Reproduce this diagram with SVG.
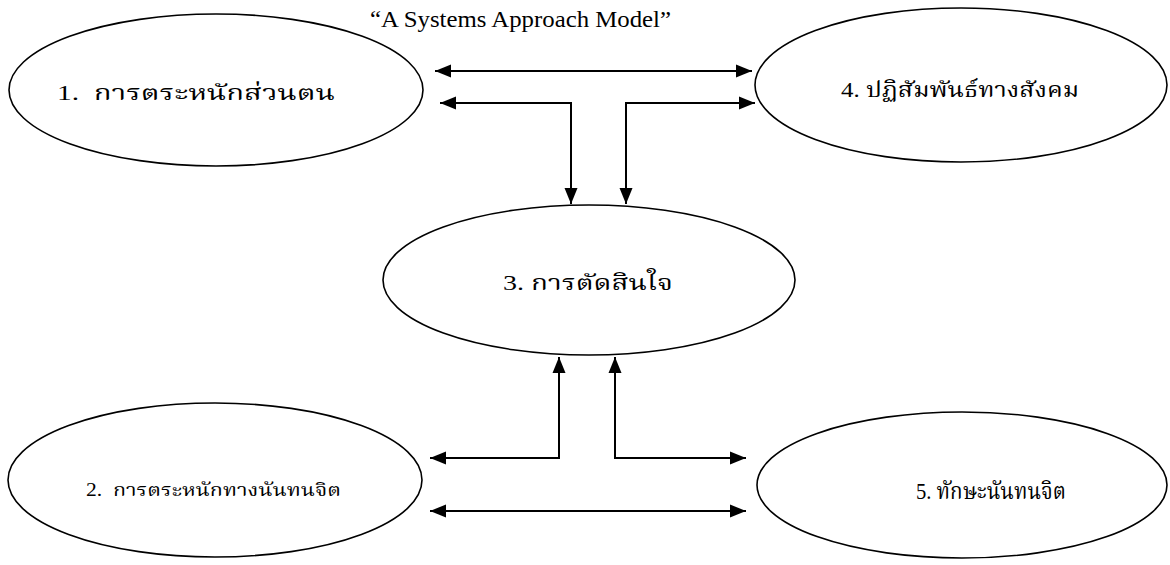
<svg xmlns="http://www.w3.org/2000/svg" width="1170" height="565" viewBox="0 0 1170 565">
<style>
.node ellipse{fill:#fff;stroke:#000;stroke-width:1.6}
.lbl{font-family:"Liberation Serif","Noto Serif Thai","Noto Sans Thai","Garuda","Loma",serif;font-size:21px;fill:#000}
.ttl{font-family:"Liberation Serif",serif;font-size:24px;fill:#000}
.conn path{fill:none;stroke:#000;stroke-width:2}
</style>
<defs>
<marker id="ah" markerUnits="userSpaceOnUse" markerWidth="17" markerHeight="14" refX="16" refY="6.5" orient="auto-start-reverse" viewBox="0 0 17 13">
<path d="M0,0 L16,6.5 L0,13 z" fill="#000"/>
</marker>
</defs>
<rect width="1170" height="565" fill="#fff"/>
<text class="ttl" x="370" y="27" textLength="301" lengthAdjust="spacingAndGlyphs">“A Systems Approach Model”</text>
<g id="n1" class="node"><ellipse cx="216" cy="90" rx="207" ry="76"/><text class="lbl" x="57" y="100" textLength="278" lengthAdjust="spacingAndGlyphs" xml:space="preserve">1.  การตระหนักส่วนตน</text></g>
<g id="n4" class="node"><ellipse cx="961" cy="85" rx="206" ry="77"/><text class="lbl" x="841" y="97" textLength="238" lengthAdjust="spacingAndGlyphs">4. ปฏิสัมพันธ์ทางสังคม</text></g>
<g id="n3" class="node"><ellipse cx="589" cy="280" rx="206" ry="75"/><text class="lbl" x="503" y="290" textLength="170" lengthAdjust="spacingAndGlyphs">3. การตัดสินใจ</text></g>
<g id="n2" class="node"><ellipse cx="215" cy="480" rx="207" ry="77"/><text class="lbl" x="86" y="496" style="font-size:18px" textLength="255" lengthAdjust="spacingAndGlyphs" xml:space="preserve">2.  การตระหนักทางนันทนจิต</text></g>
<g id="n5" class="node"><ellipse cx="962" cy="485" rx="205" ry="73"/><text class="lbl" x="916" y="499" style="font-size:23px" textLength="150" lengthAdjust="spacingAndGlyphs">5. ทักษะนันทนจิต</text></g>
<g id="connectors" class="conn">
<path d="M435,71 H752" marker-start="url(#ah)" marker-end="url(#ah)"/>
<path d="M440,103 H571 V204" marker-start="url(#ah)" marker-end="url(#ah)"/>
<path d="M755,103 H626 V204" marker-start="url(#ah)" marker-end="url(#ah)"/>
<path d="M559,357 V458 H430" marker-start="url(#ah)" marker-end="url(#ah)"/>
<path d="M615,357 V458 H746" marker-start="url(#ah)" marker-end="url(#ah)"/>
<path d="M430,511 H746" marker-start="url(#ah)" marker-end="url(#ah)"/>
</g>
</svg>
